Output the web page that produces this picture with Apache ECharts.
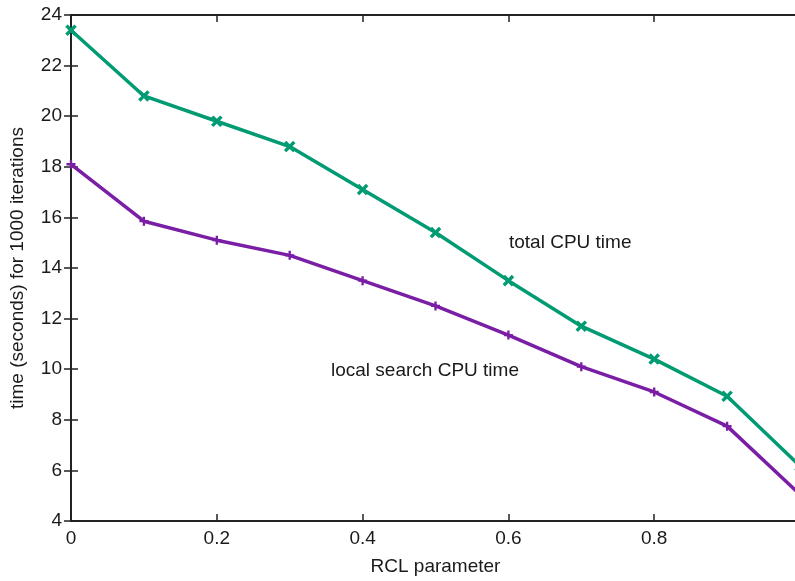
<!DOCTYPE html>
<html>
<head>
<meta charset="utf-8">
<script src="https://cdn.jsdelivr.net/npm/echarts@6/dist/echarts.min.js"></script>
<style>
html,body{margin:0;padding:0;background:#fff;overflow:hidden;}
#chart{width:805px;height:581px;}
</style>
</head>
<body>
<div id="chart"></div>
<script>
const rcl = [0, 0.1, 0.2, 0.3, 0.4, 0.5, 0.6, 0.7, 0.8, 0.9, 1.0];
const totalCPU = [23.4, 20.8, 19.8, 18.8, 17.1, 15.4, 13.5, 11.7, 10.4, 8.93, 6.17];
const localCPU = [18.1, 15.85, 15.1, 14.5, 13.5, 12.5, 11.35, 10.1, 9.1, 7.75, 5.05];
const xTicks = [0, 0.2, 0.4, 0.6, 0.8];
const yTicks = [4, 6, 8, 10, 12, 14, 16, 18, 20, 22, 24];
const labels = ['total CPU time', 'local search CPU time'];

const FONT = 'Liberation Sans, Arial, Helvetica, sans-serif';
const TXT = '#1a1a1a';
const green = '#009B72';
const purple = '#7A1EA6';
const plusPath = 'path://M-1.3,-5L1.3,-5L1.3,-1.3L5,-1.3L5,1.3L1.3,1.3L1.3,5L-1.3,5L-1.3,1.3L-5,1.3L-5,-1.3L-1.3,-1.3Z';

const chart = echarts.init(document.getElementById('chart'), null, {renderer: 'canvas'});
const axisLine = {show: true, lineStyle: {color: '#222', width: 2}};
const tick = {show: true, inside: true, length: 7, lineStyle: {color: '#222', width: 1.5}};
chart.setOption({
  animation: false,
  backgroundColor: '#fff',
  grid: {left: 71, right: 5, top: 15, bottom: 58, containLabel: false},
  xAxis: [{
    type: 'value', min: 0, max: 1, interval: 0.2, position: 'bottom',
    name: 'RCL parameter', nameLocation: 'middle', nameGap: 36,
    nameTextStyle: {fontFamily: FONT, fontSize: 19, color: TXT},
    axisLine: axisLine, axisTick: tick, splitLine: {show: false},
    axisLabel: {fontFamily: FONT, fontSize: 19, color: TXT, margin: 8,
      formatter: v => xTicks.some(t => Math.abs(t - v) < 1e-9) ? String(+v.toFixed(1)) : ''}
  }, {
    type: 'value', min: 0, max: 1, interval: 0.2, position: 'top',
    axisLine: axisLine, axisTick: tick, axisLabel: {show: false}, splitLine: {show: false}
  }],
  yAxis: [{
    type: 'value', min: 4, max: 24, interval: 2, position: 'left',
    name: 'time (seconds) for 1000 iterations', nameLocation: 'middle', nameGap: 44,
    nameTextStyle: {fontFamily: FONT, fontSize: 19, color: TXT},
    axisLine: axisLine, axisTick: tick, splitLine: {show: false},
    axisLabel: {fontFamily: FONT, fontSize: 19, color: TXT, margin: 9,
      formatter: v => yTicks.includes(v) ? String(v) : ''}
  }, {
    type: 'value', min: 4, max: 24, interval: 2, position: 'right',
    axisLine: axisLine, axisTick: tick, axisLabel: {show: false}, splitLine: {show: false}
  }],
  series: [{
    name: labels[0], type: 'line', xAxisIndex: 0, yAxisIndex: 0,
    data: rcl.map((x, i) => [x, totalCPU[i]]),
    lineStyle: {color: green, width: 3.5}, itemStyle: {color: green},
    symbol: plusPath, symbolSize: 13, symbolRotate: 45, showAllSymbol: true
  }, {
    name: labels[1], type: 'line', xAxisIndex: 0, yAxisIndex: 0,
    data: rcl.map((x, i) => [x, localCPU[i]]),
    lineStyle: {color: purple, width: 3.5}, itemStyle: {color: purple},
    symbol: plusPath, symbolSize: 9, showAllSymbol: true
  }],
  graphic: [
    {type: 'text', left: 509, top: 233, style: {text: labels[0], font: '19px ' + FONT, fill: TXT}},
    {type: 'text', left: 331, top: 361, style: {text: labels[1], font: '19px ' + FONT, fill: TXT}}
  ]
});
</script>
</body>
</html>
